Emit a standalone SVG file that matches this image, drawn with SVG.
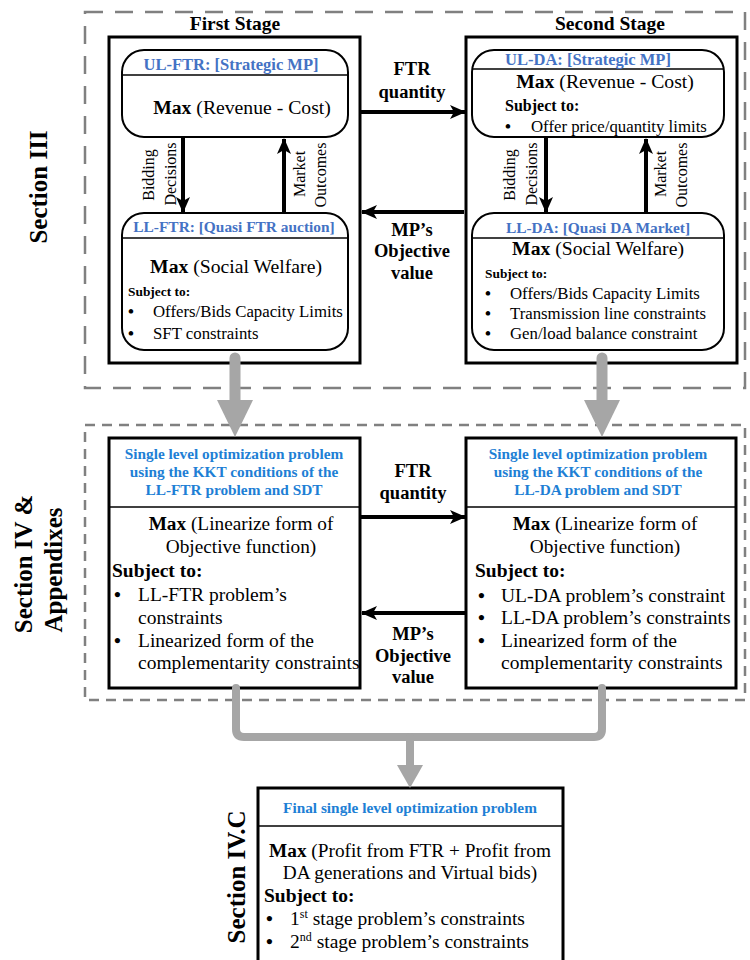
<svg xmlns="http://www.w3.org/2000/svg" width="750" height="960" viewBox="0 0 750 960">
<style>
text{font-family:"Liberation Serif","Times New Roman",serif;fill:#000}
.b{font-weight:bold}
.bu{font-weight:bold}
.sec{font-weight:bold;font-size:25px;text-anchor:middle}
.stage{font-weight:bold;font-size:19.5px;text-anchor:middle}
.lbl{font-weight:bold;font-size:18.5px;text-anchor:middle}
.rot{font-size:16px;text-anchor:middle}
.t1{font-weight:bold;font-size:16.5px;text-anchor:middle;fill:#4472C4}
.t1s{font-weight:bold;font-size:15.4px;text-anchor:middle;fill:#4472C4}
.t2{font-weight:bold;font-size:15.3px;text-anchor:middle;fill:#1E7FD5}
.max1{font-size:19.7px;text-anchor:middle}
.max2{font-size:19.3px;text-anchor:middle}
.body{font-size:19.5px}
.sm{font-size:16.8px}
.frame{fill:none;stroke:#000;stroke-width:3}
.rbox{fill:#fff;stroke:#000;stroke-width:2}
.div{stroke:#000;stroke-width:1.5}
.dash1{fill:none;stroke:#808080;stroke-width:2.5;stroke-dasharray:18 12}
.dash2{fill:none;stroke:#808080;stroke-width:2.5;stroke-dasharray:10 7}
.blk{stroke:#000;stroke-width:4;fill:none;marker-end:url(#ah)}
.gray{stroke:#A6A6A6;fill:none;stroke-linecap:round}
.grayf{fill:#A6A6A6}
</style>
<defs>
<marker id="ah" markerUnits="userSpaceOnUse" markerWidth="16" markerHeight="16" viewBox="0 0 16 16" refX="15" refY="8" orient="auto">
<path d="M0,1 L16,8 L0,15 L4,8 z" fill="#000"/>
</marker>
</defs>

<g id="sections">
<rect class="dash1" x="85" y="12" width="660" height="376"/>
<rect class="dash2" x="85" y="425" width="660" height="275"/>
<text class="sec" transform="translate(47,187) rotate(-90)">Section III</text>
<text class="sec" transform="translate(32,564) rotate(-90)">Section IV &amp;</text>
<text class="sec" transform="translate(62,570) rotate(-90)">Appendixes</text>
<text class="sec" transform="translate(245,877) rotate(-90)">Section IV.C</text>
<text class="stage" x="235" y="30">First Stage</text>
<text class="stage" x="610" y="30">Second Stage</text>
</g>

<g id="first-stage">
<rect class="frame" x="109" y="37" width="251" height="326"/>
</g>
<g id="ul-ftr">
<rect class="rbox" x="122" y="50" width="226" height="87" rx="22"/>
<line class="div" x1="122" y1="75" x2="348" y2="75"/>
<text class="t1" x="231" y="70">UL-FTR: [Strategic MP]</text>
<text class="max1" x="242" y="114"><tspan class="b">Max</tspan> (Revenue - Cost)</text>
</g>
<g id="ll-ftr">
<rect class="rbox" x="122" y="213" width="226" height="137" rx="22"/>
<line class="div" x1="122" y1="238" x2="348" y2="238"/>
<text class="t1s" x="234" y="232">LL-FTR: [Quasi FTR auction]</text>
<text class="max1" x="236" y="273"><tspan class="b">Max</tspan> (Social Welfare)</text>
<text class="b" x="128" y="296" font-size="13.4">Subject to:</text>
<text class="sm bu" x="128" y="317">•</text>
<text class="sm" x="153" y="317">Offers/Bids Capacity Limits</text>
<text class="sm bu" x="128" y="339">•</text>
<text class="sm" x="153" y="339">SFT constraints</text>
</g>

<g id="second-stage">
<rect class="frame" x="466" y="37" width="271" height="326"/>
</g>
<g id="ul-da">
<rect class="rbox" x="472" y="50" width="252" height="87" rx="22"/>
<line class="div" x1="472" y1="69" x2="724" y2="69"/>
<text class="t1" x="588" y="65">UL-DA: [Strategic MP]</text>
<text class="max1" x="605" y="88"><tspan class="b">Max</tspan> (Revenue - Cost)</text>
<text class="b" x="505" y="111" font-size="16">Subject to:</text>
<text class="sm bu" x="505" y="132">•</text>
<text class="sm" x="531" y="132">Offer price/quantity limits</text>
</g>
<g id="ll-da">
<rect class="rbox" x="472" y="213" width="252" height="137" rx="22"/>
<line class="div" x1="472" y1="238" x2="724" y2="238"/>
<text class="t1s" x="598" y="233">LL-DA: [Quasi DA Market]</text>
<text class="max1" x="598" y="255"><tspan class="b">Max</tspan> (Social Welfare)</text>
<text class="b" x="485" y="278" font-size="13.4">Subject to:</text>
<text class="sm bu" x="485" y="299">•</text>
<text class="sm" x="510" y="299">Offers/Bids Capacity Limits</text>
<text class="sm bu" x="485" y="319">•</text>
<text class="sm" x="510" y="319">Transmission line constraints</text>
<text class="sm bu" x="485" y="339">•</text>
<text class="sm" x="510" y="339">Gen/load balance constraint</text>
</g>

<g id="kkt-ftr">
<rect class="frame" x="109" y="438" width="251" height="250" fill="#fff"/>
<line class="div" x1="109" y1="507" x2="360" y2="507"/>
<text class="t2" x="234" y="459">Single level optimization problem</text>
<text class="t2" x="234" y="477">using the KKT conditions of the</text>
<text class="t2" x="234" y="495">LL-FTR problem and SDT</text>
<text class="max2" x="241" y="530"><tspan class="b">Max</tspan> (Linearize form of</text>
<text class="max2" x="241" y="553">Objective function)</text>
<text class="b body" x="112" y="577">Subject to:</text>
<text class="body bu" x="114" y="601">•</text>
<text class="body" x="138" y="601">LL-FTR problem’s</text>
<text class="body" x="138" y="624">constraints</text>
<text class="body bu" x="114" y="647">•</text>
<text class="body" x="138" y="647">Linearized form of the</text>
<text class="body" x="138" y="669">complementarity constraints</text>
</g>

<g id="kkt-da">
<rect class="frame" x="466" y="438" width="270" height="250" fill="#fff"/>
<line class="div" x1="466" y1="507" x2="736" y2="507"/>
<text class="t2" x="598" y="459">Single level optimization problem</text>
<text class="t2" x="598" y="477">using the KKT conditions of the</text>
<text class="t2" x="598" y="495">LL-DA problem and SDT</text>
<text class="max2" x="605" y="530"><tspan class="b">Max</tspan> (Linearize form of</text>
<text class="max2" x="605" y="553">Objective function)</text>
<text class="b body" x="475" y="577">Subject to:</text>
<text class="body bu" x="478" y="602">•</text>
<text class="body" x="501" y="602">UL-DA problem’s constraint</text>
<text class="body bu" x="478" y="624">•</text>
<text class="body" x="501" y="624">LL-DA problem’s constraints</text>
<text class="body bu" x="478" y="647">•</text>
<text class="body" x="501" y="647">Linearized form of the</text>
<text class="body" x="501" y="669">complementarity constraints</text>
</g>

<g id="final">
<rect class="frame" x="258" y="788" width="305" height="185" fill="#fff"/>
<line class="div" x1="258" y1="826" x2="563" y2="826"/>
<text class="t2" x="410" y="813">Final single level optimization problem</text>
<text class="max2" x="410" y="857"><tspan class="b">Max</tspan> (Profit from FTR + Profit from</text>
<text class="max2" x="410" y="879">DA generations and Virtual bids)</text>
<text class="b body" x="264" y="902">Subject to:</text>
<text class="body bu" x="266" y="925">•</text>
<text class="body" x="290" y="925">1<tspan font-size="12" dy="-7">st</tspan><tspan dy="7"> stage problem’s constraints</tspan></text>
<text class="body bu" x="266" y="948">•</text>
<text class="body" x="290" y="948">2<tspan font-size="12" dy="-7">nd</tspan><tspan dy="7"> stage problem’s constraints</tspan></text>
</g>

<g id="connectors">
<line class="blk" x1="183" y1="137" x2="183" y2="212"/>
<line class="blk" x1="284" y1="213" x2="284" y2="139"/>
<line class="blk" x1="546" y1="137" x2="546" y2="212"/>
<line class="blk" x1="646" y1="213" x2="646" y2="139"/>
<text class="rot" transform="translate(154,175) rotate(-90)">Bidding</text>
<text class="rot" transform="translate(176,174) rotate(-90)">Decisions</text>
<text class="rot" transform="translate(305,174) rotate(-90)">Market</text>
<text class="rot" transform="translate(326,175) rotate(-90)">Outcomes</text>
<text class="rot" transform="translate(515,175) rotate(-90)">Bidding</text>
<text class="rot" transform="translate(537,174) rotate(-90)">Decisions</text>
<text class="rot" transform="translate(666,174) rotate(-90)">Market</text>
<text class="rot" transform="translate(687,175) rotate(-90)">Outcomes</text>

<line class="blk" x1="361" y1="112" x2="465" y2="112"/>
<text class="lbl" x="412" y="75">FTR</text>
<text class="lbl" x="412" y="98">quantity</text>
<line class="blk" x1="464" y1="212" x2="362" y2="212"/>
<text class="lbl" x="412" y="236">MP’s</text>
<text class="lbl" x="412" y="257">Objective</text>
<text class="lbl" x="412" y="279">value</text>

<line class="blk" x1="361" y1="517" x2="465" y2="517"/>
<text class="lbl" x="413" y="477">FTR</text>
<text class="lbl" x="413" y="499">quantity</text>
<line class="blk" x1="465" y1="613" x2="362" y2="613"/>
<text class="lbl" x="413" y="640">MP’s</text>
<text class="lbl" x="413" y="662">Objective</text>
<text class="lbl" x="413" y="683">value</text>

<line class="gray" stroke-width="11" x1="235" y1="358" x2="235" y2="402"/>
<polygon class="grayf" points="217,400 253,400 235,437"/>
<line class="gray" stroke-width="11" x1="602" y1="358" x2="602" y2="402"/>
<polygon class="grayf" points="584,400 620,400 602,437"/>

<path class="gray" stroke-width="8" d="M236,688 V729 Q236,737 244,737 H594 Q602,737 602,729 V688"/>
<line class="gray" stroke-width="8" stroke-linecap="butt" x1="410" y1="737" x2="410" y2="767"/>
<polygon class="grayf" points="397,765 423,765 410,788"/>
</g>
</svg>
